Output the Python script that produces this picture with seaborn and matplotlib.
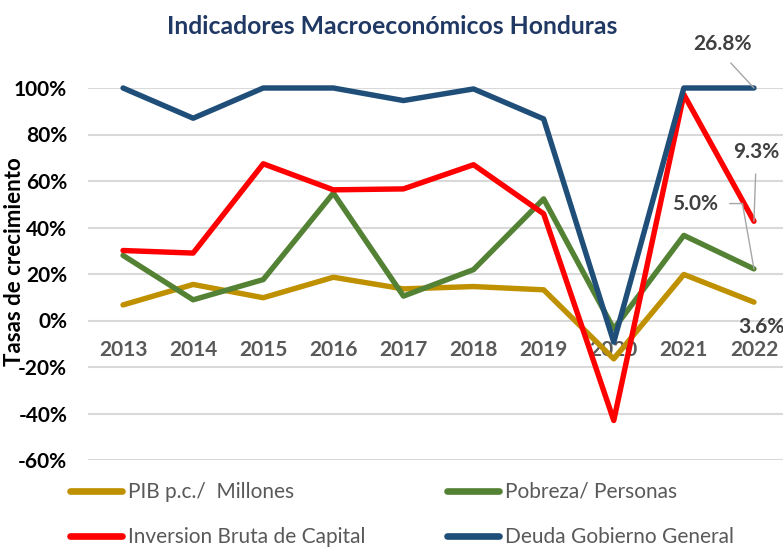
import pandas as pd
import matplotlib
matplotlib.use("Agg")
import matplotlib.pyplot as plt
import seaborn as sns

# Datos (tasas de crecimiento, %)
years = [2013, 2014, 2015, 2016, 2017, 2018, 2019, 2020, 2021, 2022]
pib = [6.7, 15.5, 9.8, 18.6, 13.6, 14.6, 13.2, -16.5, 19.8, 7.9]
pobreza = [28.0, 8.9, 17.6, 54.8, 10.5, 21.9, 52.3, -3.6, 36.6, 22.2]
inversion = [30.1, 29.0, 67.4, 56.2, 56.6, 67.0, 45.9, -43.0, 97.2, 42.7]
deuda = [100.0, 87.0, 100.0, 100.0, 94.6, 99.6, 86.7, -9.3, 100.0, 100.0]

series_names = ["PIB p.c./  Millones", "Pobreza/ Personas",
                "Inversion Bruta de Capital", "Deuda Gobierno General"]
series_colors = ["#BF9000", "#548235", "#FF0000", "#1F4E79"]

# Etiquetas de datos 2022
label_text = ["3.6%", "5.0%", "9.3%", "26.8%"]
label_xy = [(2021.77, -2.6), (2021.16, 50.3), (2022.03, 72.3), (2021.545, 119.1)]

df = pd.DataFrame({
    "year": years * 4,
    "value": pib + pobreza + inversion + deuda,
    "serie": [s for s in series_names for _ in years],
})

sns.set_style("white")
plt.rcParams["font.family"] = ["Lato", "DejaVu Sans"]

fig = plt.figure(figsize=(7.83, 5.48), dpi=100)
ax = fig.add_axes([88 / 783, 88 / 548, 701 / 783, 372 / 548])

sns.lineplot(data=df, x="year", y="value", hue="serie",
             palette=dict(zip(series_names, series_colors)),
             hue_order=series_names, linewidth=3.9, ax=ax, legend=True,
             solid_capstyle="round", solid_joinstyle="round", clip_on=False)

ax.set_xlim(2012.5, 2022.5)
ax.set_ylim(-60, 100)
ax.set_yticks(range(-60, 101, 20))
ax.set_yticklabels([f"{v}%" for v in range(-60, 101, 20)])
ax.set_xticks(years)
ax.set_xticklabels([str(y) for y in years])

for s in ax.spines.values():
    s.set_visible(False)
ax.spines["bottom"].set_position(("data", 0))
ax.grid(axis="y", color="#D9D9D9", linewidth=1.5)
ax.grid(axis="x", visible=False)
ax.set_axisbelow(True)
ax.tick_params(axis="y", length=0, pad=15, labelsize=15, labelcolor="black")
ax.tick_params(axis="x", length=0, pad=14, labelsize=15, labelcolor="#595959")
for t in ax.get_yticklabels() + ax.get_xticklabels():
    t.set_fontweight("bold")
ax.set_xlabel("")
ax.set_ylabel("")

fig.text(15 / 783, 1 - 262 / 548, "Tasas de crecimiento", rotation=90,
         ha="center", va="center", fontsize=16, fontweight="bold", color="black")
fig.text(392 / 783, 1 - 27 / 548, "Indicadores Macroeconómicos Honduras",
         ha="center", va="center", fontsize=17.8, fontweight="bold", color="#203864")

# Etiquetas con líneas guía
last_vals = [pib[-1], pobreza[-1], inversion[-1], deuda[-1]]
guides = [None,
          dict(relpos=(1, 0.5), connectionstyle="angle,angleA=0,angleB=100,rad=0"),
          dict(relpos=(0.5, 0), connectionstyle="arc3"),
          dict(relpos=(0.5, 0), connectionstyle="arc3")]
for txt, xy, val, g in zip(label_text, label_xy, last_vals, guides):
    if g is None:
        ax.text(xy[0], xy[1], txt, ha="left", va="center", fontsize=15,
                fontweight="bold", color="#404040")
        continue
    ax.annotate(txt, xy=(years[-1], val), xytext=xy, ha="center", va="center",
                fontsize=15, fontweight="bold", color="#404040",
                arrowprops=dict(arrowstyle="-", color="#A6A6A6", lw=1,
                                shrinkA=6, shrinkB=0, **g))

handles, labels = ax.get_legend_handles_labels()
ax.get_legend().remove()
order = [0, 2, 1, 3]
leg = fig.legend([handles[i] for i in order], [labels[i] for i in order],
                 loc="upper left", bbox_to_anchor=(70 / 783, 1 - 482 / 548),
                 ncol=2, frameon=False, fontsize=15, handlelength=2.5,
                 handletextpad=0.3, columnspacing=3.9, labelspacing=1.2,
                 borderpad=0, borderaxespad=0)
for h in leg.get_lines():
    h.set_linewidth(4.8)
    h.set_solid_capstyle("round")
for t in leg.get_texts():
    t.set_color("#595959")

fig.savefig("out.png", dpi=100)
